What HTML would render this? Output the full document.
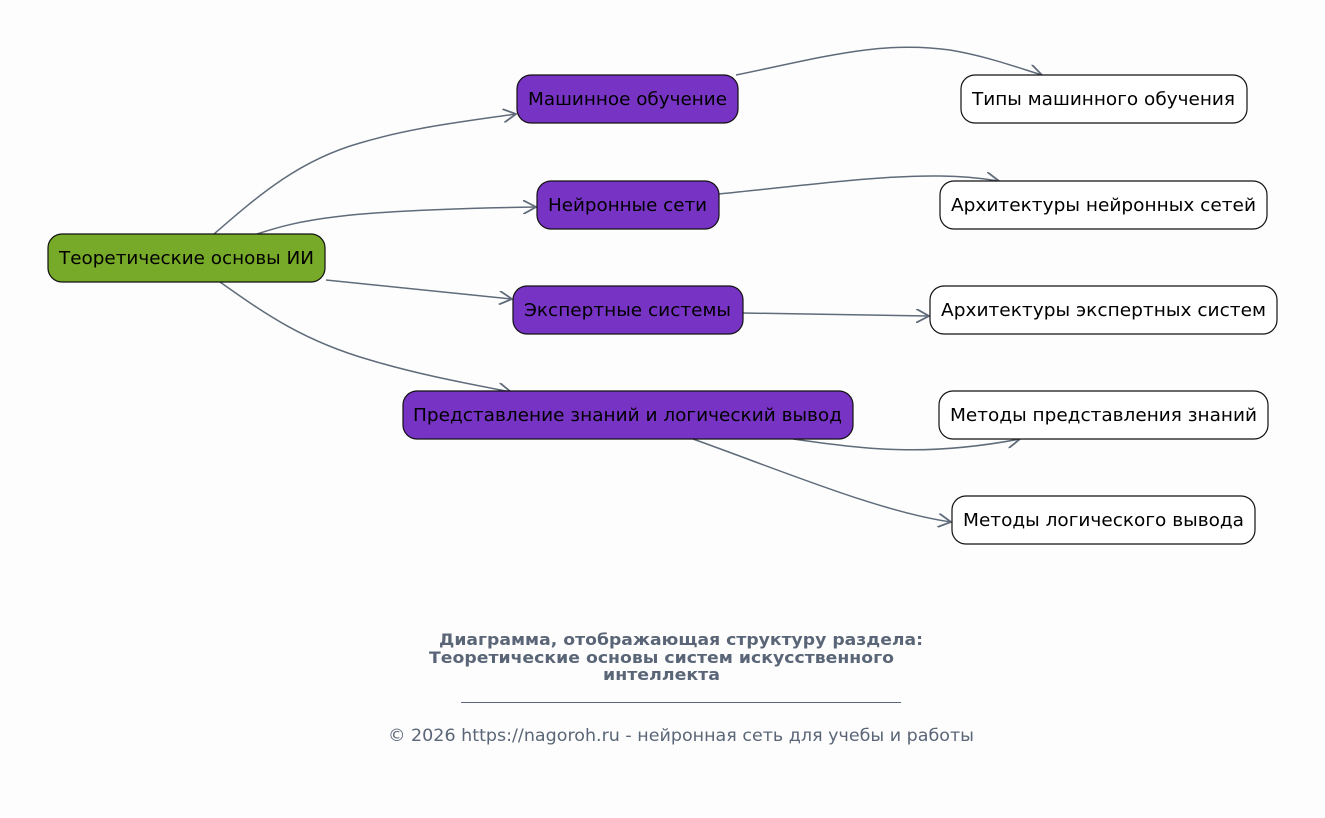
<!DOCTYPE html>
<html><head><meta charset="utf-8"><style>
html,body{margin:0;padding:0;background:#fdfdfd;}
svg{display:block;font-family:"DejaVu Sans","Liberation Sans",sans-serif;}
</style></head><body>
<svg width="1325" height="818" viewBox="0 0 1325 818" xmlns="http://www.w3.org/2000/svg">
<defs>
<marker id="a" viewBox="0 0 14 14" refX="13" refY="7" markerWidth="14" markerHeight="14" markerUnits="userSpaceOnUse" orient="auto">
<path d="M0,0 L13,7 L0,14" fill="none" stroke="#5f6b7a" stroke-width="1.8"/>
</marker>
</defs>
<rect width="1325" height="818" fill="#fdfdfd"/>
<g fill="none" stroke="#5f6b7a" stroke-width="1.5" marker-end="url(#a)">
<path d="M214,234 C260,194 300,160 360,143 C410,128 460,122 516,114"/>
<path d="M257,234 C300,220 340,210 536,207"/>
<path d="M326,280 L512,299"/>
<path d="M220,282 C260,310 300,340 370,360 C420,375 470,384 511,392"/>
<path d="M736,75 C820,58 880,40 950,50 C985,56 1010,65 1042,75"/>
<path d="M719,194 C800,186 880,175 940,176 C960,176 980,178 999,181"/>
<path d="M743,313 L929,316"/>
<path d="M793,439 C860,448 920,458 1020,439"/>
<path d="M693,439 C780,470 880,512 951,522"/>
</g>
<g stroke="#111" stroke-width="1.2">
<rect x="48" y="234" width="277" height="48" rx="14" fill="#77aa28"/>
<rect x="517" y="75" width="221" height="48" rx="14" fill="#7733c4"/>
<rect x="537" y="181" width="182" height="48" rx="14" fill="#7733c4"/>
<rect x="513" y="286" width="230" height="48" rx="14" fill="#7733c4"/>
<rect x="403" y="391" width="450" height="48" rx="14" fill="#7733c4"/>
<rect x="961" y="75" width="286" height="48" rx="14" fill="#fff"/>
<rect x="940" y="181" width="327" height="48" rx="14" fill="#fff"/>
<rect x="930" y="286" width="347" height="48" rx="14" fill="#fff"/>
<rect x="939" y="391" width="329" height="48" rx="14" fill="#fff"/>
<rect x="952" y="496" width="303" height="48" rx="14" fill="#fff"/>
</g>
<g font-size="18" fill="#000" lengthAdjust="spacingAndGlyphs">
<text x="59" y="264" textLength="255" lengthAdjust="spacingAndGlyphs">Теоретические основы ИИ</text>
<text x="528" y="105" textLength="199" lengthAdjust="spacingAndGlyphs">Машинное обучение</text>
<text x="548" y="211" textLength="159" lengthAdjust="spacingAndGlyphs">Нейронные сети</text>
<text x="524" y="316" textLength="207" lengthAdjust="spacingAndGlyphs">Экспертные системы</text>
<text x="413" y="421" textLength="429" lengthAdjust="spacingAndGlyphs">Представление знаний и логический вывод</text>
<text x="972" y="105" textLength="263" lengthAdjust="spacingAndGlyphs">Типы машинного обучения</text>
<text x="951" y="211" textLength="305" lengthAdjust="spacingAndGlyphs">Архитектуры нейронных сетей</text>
<text x="941" y="316" textLength="325" lengthAdjust="spacingAndGlyphs">Архитектуры экспертных систем</text>
<text x="950" y="421" textLength="307" lengthAdjust="spacingAndGlyphs">Методы представления знаний</text>
<text x="963" y="526" textLength="281" lengthAdjust="spacingAndGlyphs">Методы логического вывода</text>
</g>
<g fill="#5a6677">
<text x="439" y="645" font-size="16" font-weight="bold" textLength="484" lengthAdjust="spacingAndGlyphs">Диаграмма, отображающая структуру раздела:</text>
<text x="429" y="663" font-size="16" font-weight="bold" textLength="465" lengthAdjust="spacingAndGlyphs">Теоретические основы систем искусственного</text>
<text x="603" y="680" font-size="16" font-weight="bold" textLength="117" lengthAdjust="spacingAndGlyphs">интеллекта</text>
<line x1="461" y1="702.5" x2="901" y2="702.5" stroke="#5a6677" stroke-width="1"/>
<text x="388" y="741" font-size="17" textLength="586" lengthAdjust="spacingAndGlyphs">© 2026 https://nagoroh.ru - нейронная сеть для учебы и работы</text>
</g>
</svg>
</body></html>
